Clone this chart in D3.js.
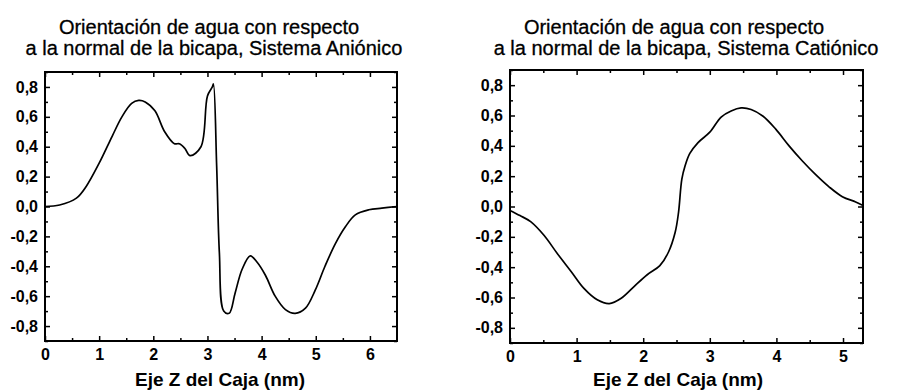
<!DOCTYPE html>
<html>
<head>
<meta charset="utf-8">
<script src="https://cdn.jsdelivr.net/npm/d3@7"></script>
<style>
  body { margin: 0; background: #fff; }
  svg { display: block; font-family: "Liberation Sans", Arial, sans-serif; }
</style>
</head>
<body>
<svg id="chart" width="898" height="392"></svg>
<script>
// Datos
const anionZ = [0, 0.27, 0.58, 0.76, 1.0, 1.24, 1.42, 1.6, 1.73, 1.85, 2.03, 2.21, 2.39, 2.48, 2.58, 2.68, 2.88, 3.0, 3.09, 3.11, 3.17, 3.22, 3.30, 3.40, 3.51, 3.64, 3.79, 3.91, 4.07, 4.25, 4.44, 4.62, 4.81, 4.99, 5.17, 5.36, 5.55, 5.73, 5.98, 6.22, 6.5];
const anionVal = [0, 0.01, 0.056, 0.134, 0.29, 0.47, 0.60, 0.69, 0.71, 0.70, 0.64, 0.50, 0.42, 0.42, 0.39, 0.34, 0.40, 0.74, 0.80, 0.82, 0.27, -0.31, -0.70, -0.715, -0.58, -0.42, -0.33, -0.37, -0.46, -0.60, -0.69, -0.715, -0.68, -0.56, -0.40, -0.25, -0.134, -0.056, -0.022, -0.011, 0];

const cationZ = [0, 0.15, 0.31, 0.51, 0.71, 0.92, 1.11, 1.31, 1.49, 1.67, 1.87, 2.06, 2.25, 2.38, 2.48, 2.53, 2.58, 2.63, 2.70, 2.82, 3.0, 3.17, 3.32, 3.47, 3.62, 3.80, 3.99, 4.19, 4.39, 4.59, 4.79, 4.99, 5.19, 5.3];
const cationVal = [-0.026, -0.06, -0.10, -0.19, -0.31, -0.43, -0.54, -0.615, -0.64, -0.605, -0.525, -0.45, -0.39, -0.30, -0.17, -0.04, 0.18, 0.27, 0.35, 0.42, 0.49, 0.59, 0.63, 0.65, 0.64, 0.595, 0.51, 0.40, 0.30, 0.21, 0.13, 0.065, 0.03, 0.007];

const anionTitle = ["Orientación de agua con respecto", "a la normal de la bicapa, Sistema Aniónico"];
const cationTitle = ["Orientación de agua con respecto", "a la normal de la bicapa, Sistema Catiónico"];
const xLabel = "Eje Z del Caja (nm)";
const yTicks = [-0.8, -0.6, -0.4, -0.2, 0, 0.2, 0.4, 0.6, 0.8];

const locale = d3.formatLocale({decimal: ",", thousands: ".", grouping: [3], currency: ["", ""], minus: "-"});
const fmt = locale.format(".1f");

const svg = d3.select("#chart");

function drawPanel(p) {
    const x = d3.scaleLinear().domain(p.xDomain).range([p.left, p.right]);
    const y = d3.scaleLinear().domain([-0.9, 0.9]).range([p.bottom, p.top]);
    const g = svg.append("g");

    const xMajor = d3.range(0, Math.floor(p.xDomain[1]) + 1);
    const xMinor = d3.range(0.5, p.xDomain[1], 1);
    const yMinor = d3.range(-0.9, 0.91, 0.2).map(v => +v.toFixed(1));

    // ejes con marcas hacia dentro
    const axes = [
        [d3.axisBottom(x).tickValues(xMajor).tickFormat(d3.format("d")), p.bottom, "x", 5],
        [d3.axisBottom(x).tickValues(xMinor).tickFormat(""), p.bottom, "x", 3],
        [d3.axisTop(x).tickValues(xMajor).tickFormat(""), p.top, "x", 5],
        [d3.axisTop(x).tickValues(xMinor).tickFormat(""), p.top, "x", 3],
        [d3.axisLeft(y).tickValues(yTicks).tickFormat(fmt), p.left, "y", 5],
        [d3.axisLeft(y).tickValues(yMinor).tickFormat(""), p.left, "y", 3],
        [d3.axisRight(y).tickValues(yTicks).tickFormat(""), p.right, "y", 5],
        [d3.axisRight(y).tickValues(yMinor).tickFormat(""), p.right, "y", 3]
    ];
    axes.forEach(([ax, pos, dir, len]) => {
        ax.tickSizeInner(-len).tickSizeOuter(0).tickPadding(dir === "x" ? 8 : 7);
        const a = g.append("g")
            .attr("transform", dir === "x" ? `translate(0,${pos})` : `translate(${pos},0)`)
            .call(ax);
        a.select(".domain").remove();
        a.selectAll("line").attr("stroke", "#000").attr("stroke-width", 1.5);
        a.selectAll("text")
            .attr("fill", "#000")
            .style("font-size", "16px")
            .style("font-weight", "bold");
    });

    g.append("rect")
        .attr("x", p.left).attr("y", p.top)
        .attr("width", p.right - p.left).attr("height", p.bottom - p.top)
        .attr("fill", "none").attr("stroke", "#000").attr("stroke-width", 2);

    const line = d3.line()
        .x((d, i) => x(p.xs[i]))
        .y(d => y(d))
        .curve(d3.curveCatmullRom.alpha(0.5));

    g.append("path")
        .datum(p.ys)
        .attr("d", line)
        .attr("fill", "none")
        .attr("stroke", "#000")
        .attr("stroke-width", 1.7);

    p.title.forEach((t, i) => {
        g.append("text")
            .attr("x", p.titleX[i]).attr("y", 34 + i * 21)
            .attr("text-anchor", "middle")
            .style("font-size", "20px")
            .attr("fill", "#000")
            .attr("stroke", "#000").attr("stroke-width", 0.3)
            .text(t);
    });

    g.append("text")
        .attr("x", p.labelX).attr("y", 386)
        .attr("text-anchor", "middle")
        .style("font-size", "19px")
        .style("font-weight", "bold")
        .attr("fill", "#000")
        .text(xLabel);
}

drawPanel({left: 45, right: 397, top: 72, bottom: 341, xDomain: [0, 6.5],
    xs: anionZ, ys: anionVal, title: anionTitle, titleX: [209, 214], labelX: 220});
drawPanel({left: 510, right: 863, top: 70, bottom: 343, xDomain: [0, 5.3],
    xs: cationZ, ys: cationVal, title: cationTitle, titleX: [674, 686], labelX: 678});
</script>
</body>
</html>
